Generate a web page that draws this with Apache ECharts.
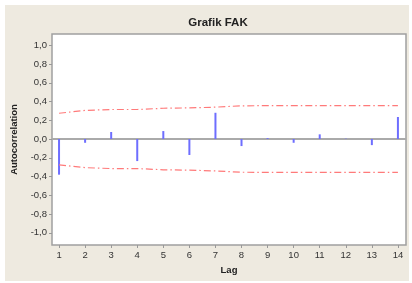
<!DOCTYPE html>
<html>
<head>
<meta charset="utf-8">
<script src="https://cdn.jsdelivr.net/npm/echarts@6/dist/echarts.min.js"></script>
<style>
  html, body { margin: 0; padding: 0; background: #fff; }
  #wrap { position: relative; width: 412px; height: 283px; background: #fff; }
  #bg { position: absolute; left: 5px; top: 5px; width: 404px; height: 276px; background: #eeeae0; }
  #chart { position: absolute; left: 0; top: 0; width: 412px; height: 283px; }
</style>
</head>
<body>
<div id="wrap">
  <div id="bg"></div>
  <div id="chart"></div>
</div>
<script>
// lags and autocorrelation values
const lags = [1, 2, 3, 4, 5, 6, 7, 8, 9, 10, 11, 12, 13, 14]
const acf = [-0.38, -0.04, 0.075, -0.235, 0.085, -0.17, 0.28, -0.075, 0.01, -0.04, 0.05, 0.004, -0.065, 0.235]
// confidence limits (red dash-dot)
const upperLimit = [0.275, 0.305, 0.315, 0.315, 0.328, 0.332, 0.34, 0.354, 0.356, 0.356, 0.356, 0.356, 0.356, 0.356]
const lowerLimit = [-0.275, -0.305, -0.315, -0.315, -0.328, -0.332, -0.34, -0.354, -0.356, -0.356, -0.356, -0.356, -0.356, -0.356]
// tick labels
const yTicks = [-1.0, -0.8, -0.6, -0.4, -0.2, 0.0, 0.2, 0.4, 0.6, 0.8, 1.0]
const xTicks = lags

const pairs = (ys) => lags.map((x, i) => [x, ys[i]])

const chart = echarts.init(document.getElementById('chart'))

const labelFont = 'Liberation Sans, Arial, sans-serif'

chart.setOption({
  backgroundColor: 'transparent',
  animation: false,
  title: {
    text: 'Grafik FAK',
    left: 213,
    top: 12,
    textAlign: 'center',
    textStyle: {
      fontFamily: labelFont,
      fontSize: 11.5,
      fontWeight: 'bold',
      color: '#222'
    }
  },
  grid: {
    left: 52,
    right: 6,
    top: 34,
    bottom: 38,
    show: true,
    backgroundColor: '#fff',
    borderColor: '#a0a0a0',
    borderWidth: 1.5
  },
  xAxis: {
    type: 'value',
    min: 0.73,
    max: 14.31,
    name: 'Lag',
    nameLocation: 'middle',
    nameGap: 20,
    nameTextStyle: {
      fontFamily: labelFont,
      fontSize: 9.5,
      fontWeight: 'bold',
      color: '#222'
    },
    axisLine: { show: false, onZero: false },
    splitLine: { show: false },
    axisTick: {
      show: true,
      length: 3,
      customValues: xTicks,
      lineStyle: { color: '#999' }
    },
    axisLabel: {
      customValues: xTicks,
      margin: 5,
      fontFamily: labelFont,
      fontSize: 9.5,
      color: '#333'
    }
  },
  yAxis: {
    type: 'value',
    min: -1.13,
    max: 1.12,
    name: 'Autocorrelation',
    nameLocation: 'middle',
    nameGap: 29,
    nameRotate: 90,
    nameTextStyle: {
      fontFamily: labelFont,
      fontSize: 9.5,
      fontWeight: 'bold',
      color: '#222'
    },
    axisLine: { show: false },
    splitLine: { show: false },
    axisTick: {
      show: true,
      length: 3,
      customValues: yTicks,
      lineStyle: { color: '#999' }
    },
    axisLabel: {
      customValues: yTicks,
      margin: 5,
      fontFamily: labelFont,
      fontSize: 9.5,
      color: '#333',
      formatter: (v) => v.toFixed(1).replace('.', ',')
    }
  },
  series: [
    {
      type: 'bar',
      data: pairs(acf),
      barWidth: 2,
      z: 3,
      itemStyle: { color: '#6e6eff' },
      markLine: {
        silent: true,
        symbol: 'none',
        label: { show: false },
        lineStyle: { color: '#aaaaaa', width: 2, type: 'solid' },
        data: [{ yAxis: 0 }],
        z: 1
      }
    },
    {
      type: 'line',
      data: pairs(upperLimit),
      showSymbol: false,
      lineStyle: { color: '#ff7a7a', width: 1.2, type: [7, 3, 1.5, 3] }
    },
    {
      type: 'line',
      data: pairs(lowerLimit),
      showSymbol: false,
      lineStyle: { color: '#ff7a7a', width: 1.2, type: [7, 3, 1.5, 3] }
    }
  ]
})
</script>
</body>
</html>
